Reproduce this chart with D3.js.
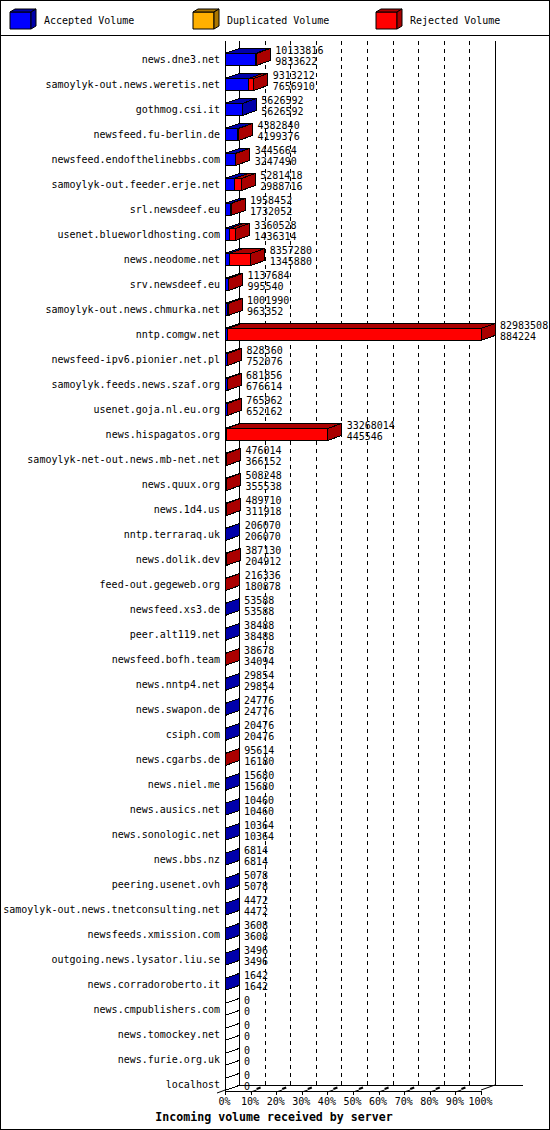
<!DOCTYPE html>
<html>
<head>
<meta charset="utf-8">
<script src="https://cdn.jsdelivr.net/npm/d3@7"></script>
<style>
  body { margin: 0; background: #fff; }
  svg { display: block; }
</style>
</head>
<body>
<div id="chart"></div>
<script>
// Incoming volume per server, stacked 3D bars (accepted / duplicated / rejected)

const categories = [
  "news.dne3.net", "samoylyk-out.news.weretis.net", "gothmog.csi.it", "newsfeed.fu-berlin.de",
  "newsfeed.endofthelinebbs.com", "samoylyk-out.feeder.erje.net", "srl.newsdeef.eu",
  "usenet.blueworldhosting.com", "news.neodome.net", "srv.newsdeef.eu",
  "samoylyk-out.news.chmurka.net", "nntp.comgw.net", "newsfeed-ipv6.pionier.net.pl",
  "samoylyk.feeds.news.szaf.org", "usenet.goja.nl.eu.org", "news.hispagatos.org",
  "samoylyk-net-out.news.mb-net.net", "news.quux.org", "news.1d4.us", "nntp.terraraq.uk",
  "news.dolik.dev", "feed-out.gegeweb.org", "newsfeed.xs3.de", "peer.alt119.net",
  "newsfeed.bofh.team", "news.nntp4.net", "news.swapon.de", "csiph.com", "news.cgarbs.de",
  "news.niel.me", "news.ausics.net", "news.sonologic.net", "news.bbs.nz", "peering.usenet.ovh",
  "samoylyk-out.news.tnetconsulting.net", "newsfeeds.xmission.com",
  "outgoing.news.lysator.liu.se", "news.corradoroberto.it", "news.cmpublishers.com",
  "news.tomockey.net", "news.furie.org.uk", "localhost"
];

const acceptedVolume = [
  9833622, 7656910, 5626592, 4199376, 3247490, 2988716, 1732052, 1436314, 1345880, 995540,
  963352, 884224, 752076, 676614, 652162, 445546, 366152, 355538, 311918, 206070,
  204912, 180878, 53588, 38488, 34094, 29854, 24776, 20476, 16180, 15680,
  10460, 10364, 6814, 5078, 4472, 3608, 3496, 1642, 0, 0, 0, 0
];

const duplicatedVolume = [
  0, 0, 0, 0, 0, 0, 0, 0, 0, 0, 0, 0, 0, 0, 0, 0, 0, 0, 0, 0, 0,
  0, 0, 0, 0, 0, 0, 0, 0, 0, 0, 0, 0, 0, 0, 0, 0, 0, 0, 0, 0, 0
];

const rejectedVolume = [
  300194, 1656302, 0, 183464, 198174, 2292702, 226400, 1924214, 7011400, 142144,
  38638, 82099284, 76284, 5242, 113800, 32822468, 109862, 152710, 177792, 0,
  182218, 35458, 0, 0, 4584, 0, 0, 0, 79434, 0,
  0, 0, 0, 0, 0, 0, 0, 0, 0, 0, 0, 0
];

const seriesKeys = ["accepted", "duplicated", "rejected"];
const seriesNames = ["Accepted Volume", "Duplicated Volume", "Rejected Volume"];
const percentTicks = [0, 10, 20, 30, 40, 50, 60, 70, 80, 90, 100];
const axisTitle = "Incoming volume received by server";

// styling
const faceColor = { accepted: "#0000ff", duplicated: "#ffb000", rejected: "#ff0000" };
const shadeColor = { accepted: "#0000aa", duplicated: "#ab7600", rejected: "#aa0000" };
const mono = "'DejaVu Sans Mono', 'Liberation Mono', monospace";

var width = 550;
var height = 1130;
var DX = 14, DY = -5;       // 3D depth offset
var plotTop = 41;
var plotLeft = 225, plotRight = 481, floorY = 1090;
var barHalf = 6;

const table = categories.map((c, i) => ({
  name: c,
  accepted: acceptedVolume[i],
  duplicated: duplicatedVolume[i],
  rejected: rejectedVolume[i]
}));
table.forEach(d => { d.total = d.accepted + d.duplicated + d.rejected; });

const stacked = d3.stack().keys(seriesKeys)(table);
const maxTotal = d3.max(table, d => d.total);

const x = d3.scaleLinear().domain([0, maxTotal]).range([plotLeft, plotRight]);
const pct = d3.scaleLinear().domain([0, 100]).range([plotLeft, plotRight]);
const y = d3.scalePoint().domain(categories).range([59.5, 1084.5]);

var svg = d3.select("#chart").append("svg")
  .attr("width", width)
  .attr("height", height)
  .style("font-family", mono);

svg.append("rect")
  .attr("x", 0.5).attr("y", 0.5)
  .attr("width", width - 1).attr("height", height - 1)
  .attr("fill", "#fff").attr("stroke", "#000");

// legend
svg.append("line")
  .attr("x1", 0).attr("x2", width)
  .attr("y1", 35.5).attr("y2", 35.5)
  .attr("stroke", "#000");

var legend = svg.append("g").selectAll("g")
  .data(seriesKeys)
  .enter().append("g")
  .attr("transform", (d, i) => "translate(" + (10 + i * 183) + ",0)");

function box(g, w, h, dx, dy, key) {
  g.append("path")
    .attr("d", `M0,${12 + h}V12H${w}V${12 + h}Z`)
    .attr("fill", faceColor[key]).attr("stroke", "#000");
  g.append("path")
    .attr("d", `M0,12L${dx},${12 + dy}H${w + dx}L${w},12Z`)
    .attr("fill", shadeColor[key]).attr("stroke", "#000");
  g.append("path")
    .attr("d", `M${w},12L${w + dx},${12 + dy}V${12 + h + dy}L${w},${12 + h}Z`)
    .attr("fill", shadeColor[key]).attr("stroke", "#000");
}
legend.each(function (d) { box(d3.select(this), 21, 17, 5, -3, d); });
legend.append("text")
  .attr("x", 34)
  .attr("y", 24)
  .attr("font-size", "10px")
  .text((d, i) => seriesNames[i]);

// back wall gridlines
var grid = svg.append("g");
grid.selectAll("line")
  .data(percentTicks.slice(1))
  .enter().append("line")
  .attr("x1", d => Math.round(pct(d) + DX) + 0.5)
  .attr("x2", d => Math.round(pct(d) + DX) + 0.5)
  .attr("y1", plotTop)
  .attr("y2", floorY + DY)
  .attr("stroke", "#000")
  .attr("stroke-dasharray", d => d === 100 ? null : "4,4");

// left wall
svg.append("line")
  .attr("x1", plotLeft + 0.5).attr("x2", plotLeft + 0.5)
  .attr("y1", plotTop).attr("y2", floorY)
  .attr("stroke", "#000");
svg.append("line")
  .attr("x1", plotLeft + DX + 0.5).attr("x2", plotLeft + DX + 0.5)
  .attr("y1", plotTop).attr("y2", floorY + DY)
  .attr("stroke", "#000");

// floor
svg.append("line")
  .attr("x1", plotLeft + DX).attr("x2", 523)
  .attr("y1", floorY + DY + 0.5).attr("y2", floorY + DY + 0.5)
  .attr("stroke", "#000");
svg.append("line")
  .attr("x1", plotLeft - 8).attr("y1", floorY + 3)
  .attr("x2", plotLeft + DX).attr("y2", floorY + DY)
  .attr("stroke", "#000");
svg.append("line")
  .attr("x1", plotRight).attr("y1", floorY)
  .attr("x2", plotRight + DX).attr("y2", floorY + DY)
  .attr("stroke", "#000");

var floorTicks = svg.append("g").selectAll("g")
  .data(percentTicks.slice(1, -1))
  .enter().append("g");
floorTicks.append("line")
  .attr("x1", d => pct(d)).attr("y1", floorY + 2)
  .attr("x2", d => pct(d) + 6).attr("y2", floorY)
  .attr("stroke", "#000");
floorTicks.append("line")
  .attr("x1", d => pct(d) + 6).attr("y1", floorY - 1)
  .attr("x2", d => pct(d) + 10).attr("y2", floorY - 2.5)
  .attr("stroke", "#000")
  .attr("stroke-width", 2);

// bars
var segments = [];
stacked.forEach(s => {
  s.forEach((v, i) => {
    if (v[1] > v[0]) segments.push({ key: s.key, name: categories[i], x0: x(v[0]), x1: x(v[1]) });
  });
});

var bars = svg.append("g").attr("stroke", "#000").attr("shape-rendering", "crispEdges");

bars.selectAll(".front")
  .data(segments)
  .enter().append("path")
  .attr("class", "front")
  .attr("d", d => {
    var t = y(d.name) - barHalf, b = y(d.name) + barHalf;
    return `M${d.x0},${b}V${t}H${d.x1}V${b}Z`;
  })
  .attr("fill", d => faceColor[d.key]);

bars.selectAll(".top")
  .data(segments)
  .enter().append("path")
  .attr("class", "top")
  .attr("d", d => {
    var t = y(d.name) - barHalf;
    return `M${d.x0},${t}L${d.x0 + DX},${t + DY}H${d.x1 + DX}L${d.x1},${t}Z`;
  })
  .attr("fill", d => shadeColor[d.key]);

function lastKey(d) {
  var k = null;
  seriesKeys.forEach(s => { if (d[s] > 0) k = s; });
  return k;
}

bars.selectAll(".side")
  .data(table)
  .enter().append("path")
  .attr("class", "side")
  .attr("d", d => {
    var t = y(d.name) - barHalf, b = y(d.name) + barHalf, e = x(d.total);
    return `M${e},${t}L${e + DX},${t + DY}V${b + DY}L${e},${b}Z`;
  })
  .attr("fill", d => lastKey(d) ? shadeColor[lastKey(d)] : "#fff");

// value labels: total above, accepted below
var values = svg.append("g").attr("font-size", "10px");
values.selectAll(".tot")
  .data(table)
  .enter().append("text")
  .attr("x", d => x(d.total) + DX + 5)
  .attr("y", d => y(d.name) - 5.5)
  .text(d => d.total);
values.selectAll(".acc")
  .data(table)
  .enter().append("text")
  .attr("x", d => x(d.total) + DX + 5)
  .attr("y", d => y(d.name) + 5.5)
  .text(d => d.accepted);

// category axis
var yAxis = svg.append("g")
  .attr("transform", `translate(${plotLeft},0)`)
  .call(d3.axisLeft(y).tickSize(0).tickPadding(5));
yAxis.select(".domain").remove();
yAxis.selectAll("text")
  .attr("font-family", mono)
  .attr("font-size", "10px")
  .attr("fill", "#000");

// percent axis (front edge of the floor)
var xAxis = svg.append("g")
  .attr("transform", `translate(0,${floorY + 0.5})`)
  .call(d3.axisBottom(pct)
    .tickValues(percentTicks)
    .tickFormat(d => d + "%")
    .tickSize(4)
    .tickSizeOuter(0));
xAxis.attr("shape-rendering", "crispEdges");
xAxis.selectAll("text")
  .attr("font-family", mono)
  .attr("font-size", "10px")
  .attr("dx", -1)
  .attr("fill", "#000");

svg.append("text")
  .attr("x", 274)
  .attr("y", 1121)
  .attr("text-anchor", "middle")
  .attr("font-size", "11.6px")
  .attr("font-weight", "bold")
  .text(axisTitle);
</script>
</body>
</html>
